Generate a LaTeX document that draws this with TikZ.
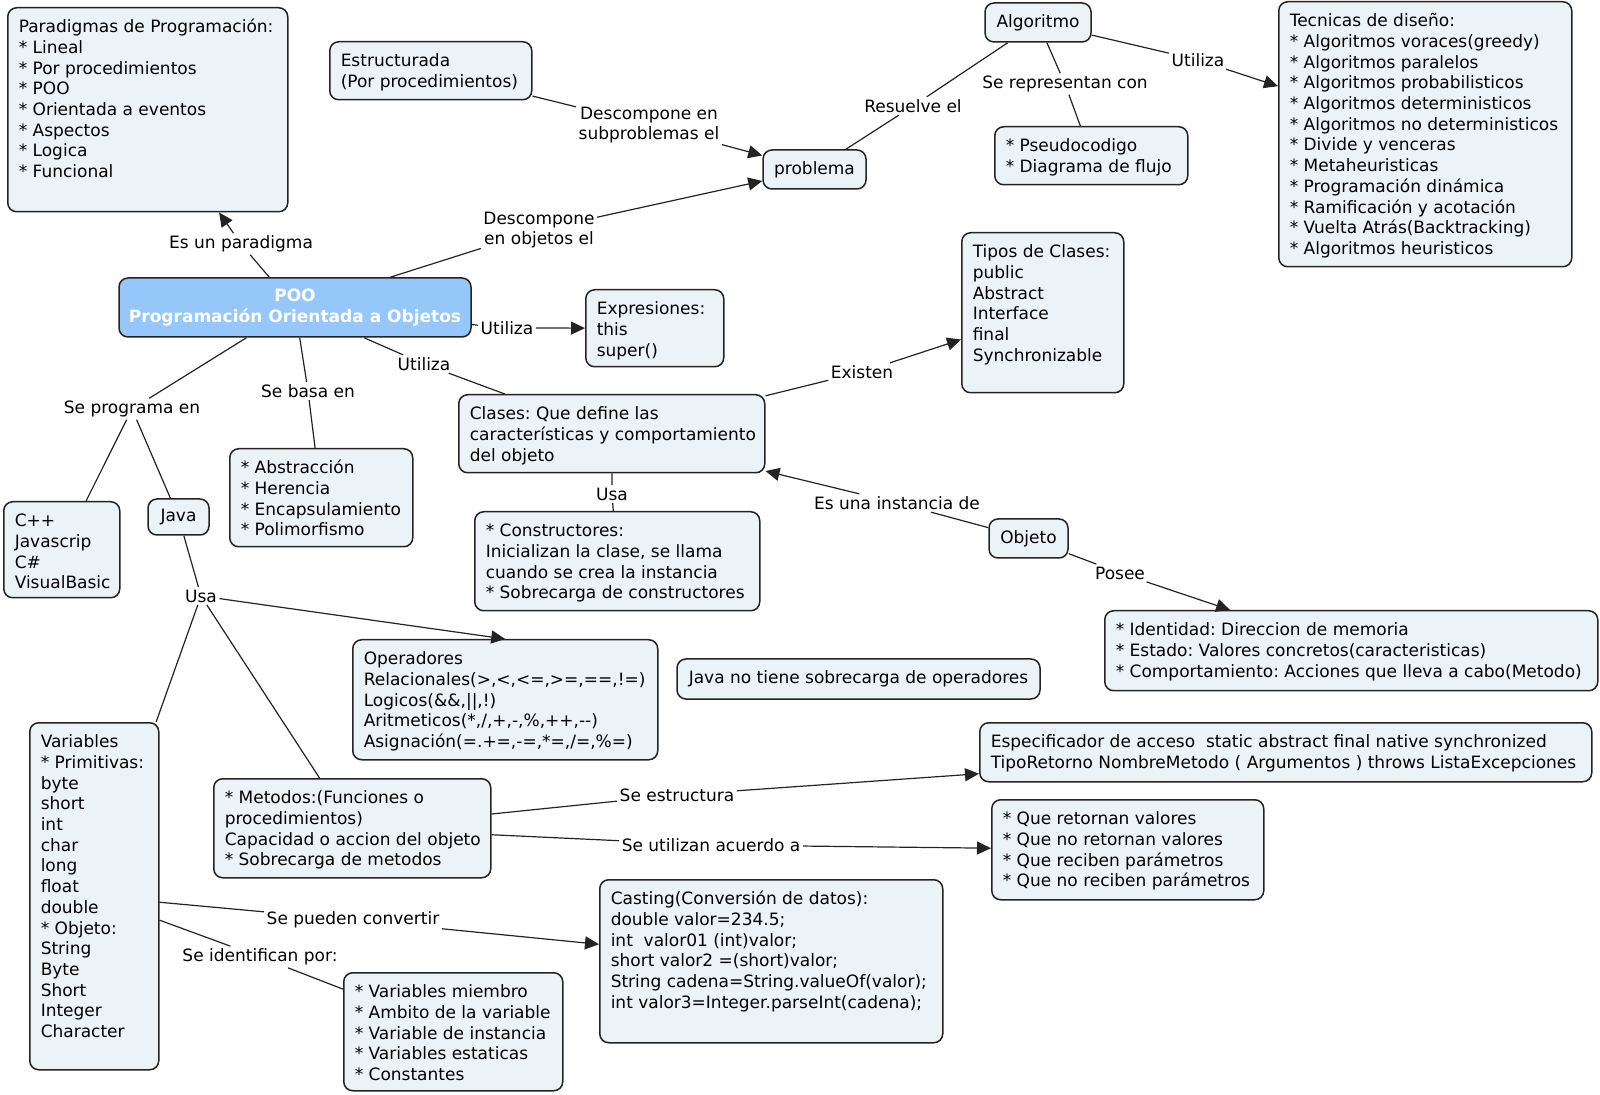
\documentclass[tikz,border=0pt]{standalone}
\usepackage{fontspec}
\setmainfont{DejaVu Sans}
\usetikzlibrary{arrows.meta}
\definecolor{cfill}{RGB}{236,243,246}
\definecolor{pfill}{RGB}{150,199,250}
\definecolor{cline}{RGB}{35,35,35}
\begin{document}
\frenchspacing
\begin{tikzpicture}[x=0.5pt,y=-0.5pt,line width=0.6pt,draw=cline,
  >={Triangle[length=7pt,width=6.5pt]},
  concept/.style={draw=cline,line width=0.75pt,fill=cfill,rounded corners=4.5pt,
    inner xsep=5.5pt,inner ysep=5.25pt,anchor=north west,
    font=\fontsize{8.5}{10.35}\selectfont},
  word/.style={draw=cline,line width=0.75pt,fill=cfill,rounded corners=4.5pt,
    inner sep=0pt,font=\fontsize{8.5}{10.35}\selectfont},
  link/.style={inner sep=1pt,align=center,font=\fontsize{8.5}{10.35}\selectfont}]
\useasboundingbox (0,0) rectangle (1600,1095);
\def\ctext#1#2#3{\parbox[c][#2pt][t]{#1pt}{\begin{tabular}[t]{@{}l@{}}#3\end{tabular}}}

% concepts
\node[concept] (para) at (7,7) {\ctext{129}{91.5}{Paradigmas de Programación:\\{}* Lineal\\{}* Por procedimientos\\{}* POO\\{}* Orientada a eventos\\{}* Aspectos\\{}* Logica\\{}* Funcional}};
\node[concept] (estr) at (329,41) {\ctext{90}{18.5}{Estructurada\\(Por procedimientos)}};
\node[word,minimum width=53pt,minimum height=19.5pt] (algo) at (1038,22.5) {Algoritmo};
\node[concept] (tec) at (1278,1) {\ctext{135.5}{122}{Tecnicas de diseño:\\{}* Algoritmos voraces(greedy)\\{}* Algoritmos paralelos\\{}* Algoritmos probabilisticos\\{}* Algoritmos deterministicos\\{}* Algoritmos no deterministicos\\{}* Divide y venceras\\{}* Metaheuristicas\\{}* Programación dinámica\\{}* Ramificación y acotación\\{}* Vuelta Atrás(Backtracking)\\{}* Algoritmos heuristicos}};
\node[word,minimum width=51.5pt,minimum height=19.5pt] (prob) at (814.5,169.5) {problema};
\node[concept] (pseu) at (994,126) {\ctext{85.5}{18.5}{* Pseudocodigo\\{}* Diagrama de flujo}};
\node[word,fill=pfill,minimum width=176pt,minimum height=29.5pt,align=center,text=white,
  font=\fontsize{8.5}{10.35}\selectfont\bfseries] (poo) at (295,307.5) {POO\\Programación Orientada a Objetos};
\node[concept] (expr) at (585,289) {\ctext{58}{28}{Expresiones:\\this\\super()}};
\node[concept] (tipos) at (961,232) {\ctext{70}{69.5}{Tipos de Clases:\\public\\Abstract\\Interface\\final\\Synchronizable}};
\node[concept] (clases) at (458,394) {\ctext{142}{28.5}{Clases: Que define las\\características y comportamiento\\del objeto}};
\node[concept] (lang) at (3,501) {\ctext{47}{37.5}{C++\\Javascrip\\C\#\\VisualBasic}};
\node[word,minimum width=30.5pt,minimum height=18pt] (java) at (178.5,517) {Java};
\node[concept] (basa) at (229,448) {\ctext{80.5}{38.5}{* Abstracción\\{}* Herencia\\{}* Encapsulamiento\\{}* Polimorfismo}};
\node[concept] (cons) at (474,511) {\ctext{131.5}{39}{* Constructores:\\Inicializan la clase, se llama\\cuando se crea la instancia\\{}* Sobrecarga de constructores}};
\node[word,minimum width=39.5pt,minimum height=19.5pt] (objeto) at (1028.5,538.5) {Objeto};
\node[concept] (ident) at (1104,610) {\ctext{235.5}{29.5}{* Identidad: Direccion de memoria\\{}* Estado: Valores concretos(caracteristicas)\\{}* Comportamiento: Acciones que lleva a cabo(Metodo)}};
\node[concept] (oper) at (352,639) {\ctext{141.5}{49.5}{Operadores\\Relacionales(>,<,<=,>=,==,!=)\\Logicos(\&\&,||,!)\\Aritmeticos(*,/,+,-,\%,++,-{}-)\\Asignación(=.+=,-=,*=,/=,\%=)}};
\node[word,minimum width=181.5pt,minimum height=20pt] (nosob) at (858.5,679) {Java no tiene sobrecarga de operadores};
\node[concept] (vars) at (29,722) {\ctext{53.5}{163}{Variables\\{}* Primitivas:\\byte\\short\\int\\char\\long\\float\\double\\{}* Objeto:\\String\\Byte\\Short\\Integer\\Character}};
\node[concept] (meto) at (213,778) {\ctext{127.5}{39}{* Metodos:(Funciones o\\procedimientos)\\Capacidad o accion del objeto\\{}* Sobrecarga de metodos}};
\node[concept] (espec) at (979,722) {\ctext{295}{19}{Especificador de acceso\ \ static abstract final native synchronized\\TipoRetorno NombreMetodo ( Argumentos ) throws ListaExcepciones}};
\node[concept] (ret) at (991,799) {\ctext{125}{39.5}{* Que retornan valores\\{}* Que no retornan valores\\{}* Que reciben parámetros\\{}* Que no reciben parámetros}};
\node[concept] (cast) at (599,879) {\ctext{160.5}{71}{Casting(Conversión de datos):\\double valor=234.5;\\int\ \ valor01 (int)valor;\\short valor2 =(short)valor;\\String cadena=String.valueOf(valor);\\int valor3=Integer.parseInt(cadena);}};
\node[concept] (miem) at (343,972) {\ctext{98.5}{48.5}{* Variables miembro\\{}* Ambito de la variable\\{}* Variable de instancia\\{}* Variables estaticas\\{}* Constantes}};

% linking phrases
\node[link] (lpar) at (241,244) {Es un paradigma};
\node[link] (lsub) at (649,125) {Descompone en\\subproblemas el};
\node[link] (lobj) at (539,230) {Descompone\\en objetos el};
\node[link] (lres) at (913,106) {Resuelve el};
\node[link] (lrep) at (1065,84) {Se representan con};
\node[link] (lutc) at (1198,60) {Utiliza};
\node[link] (lexp) at (507,328) {Utiliza};
\node[link] (lcla) at (424,364) {Utiliza};
\node[link] (lprg) at (132,409) {Se programa en};
\node[link] (lbas) at (308,391) {Se basa en};
\node[link] (lexi) at (862,372) {Existen};
\node[link] (lusc) at (612,494) {Usa};
\node[link] (lins) at (897,503) {Es una instancia de};
\node[link] (lpos) at (1120,573) {Posee};
\node[link] (lusj) at (201,596) {Usa};
\node[link] (lest) at (677,795) {Se estructura};
\node[link] (luti) at (711,845) {Se utilizan acuerdo a};
\node[link] (lcon) at (353,920) {Se pueden convertir};
\node[link] (lide) at (260,957) {Se identifican por:};

% connectors
\draw (poo) -- (lpar);
\draw[->] (lpar) -- (para);
\draw (estr) -- (lsub);
\draw[->] (lsub) -- (prob);
\draw (poo) -- (lobj);
\draw[->] (lobj) -- (prob);
\draw (prob) -- (lres);
\draw (lres) -- (algo);
\draw (algo) -- (lrep);
\draw (lrep) -- (pseu);
\draw (algo) -- (lutc);
\draw[->] (lutc) -- (tec);
\draw (poo) -- (lexp);
\draw[->] (lexp) -- (expr);
\draw (poo) -- (lcla);
\draw (lcla) -- (clases);
\draw (poo) -- (lprg);
\draw (lprg) -- (lang);
\draw (lprg) -- (java);
\draw (poo) -- (lbas);
\draw (lbas) -- (basa);
\draw (clases) -- (lexi);
\draw[->] (lexi) -- (tipos);
\draw (clases) -- (lusc);
\draw (lusc) -- (cons);
\draw (objeto) -- (lins);
\draw[->] (lins) -- (clases);
\draw (objeto) -- (lpos);
\draw[->] (lpos) -- (ident);
\draw (java) -- (lusj);
\draw[->] (lusj) -- (oper.north);
\draw (lusj) -- (vars);
\draw (lusj) -- (meto);
\draw (meto) -- (lest);
\draw[->] (lest) -- (espec);
\draw (meto) -- (luti);
\draw[->] (luti) -- (ret);
\draw (vars) -- (lcon);
\draw[->] (lcon) -- (cast);
\draw (vars) -- (lide);
\draw (lide) -- (miem);
\end{tikzpicture}
\end{document}
